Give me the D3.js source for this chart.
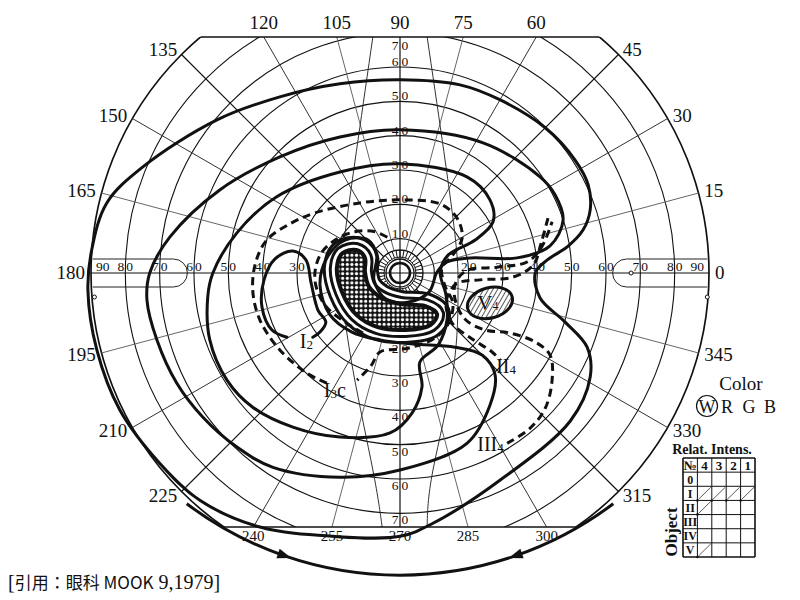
<!DOCTYPE html>
<html>
<head>
<meta charset="utf-8">
<script src="https://cdn.jsdelivr.net/npm/d3@7"></script>
<style>
  body { margin: 0; background: #fff; }
  text { font-family: "Liberation Serif", "DejaVu Serif", serif; fill: #111; }
</style>
</head>
<body>
<svg id="chart" width="800" height="600"></svg>
<script>
// ---- grid values (degrees) ----
var meridians = d3.range(0, 360, 15);
var rings = [10, 20, 30, 40, 50, 60, 70, 80, 90];
var topTicks = [60, 75, 90, 105, 120];
var bottomTicks = [240, 255, 270, 285, 300];
var sideTicks = [0, 15, 30, 45, 135, 150, 165, 180, 195, 210, 225, 315, 330, 345];
var upLabels = [10, 20, 30, 40, 50, 60, 70];
var downLabels = [20, 30, 40, 50, 60, 70];
var leftLabels = [30, 40, 50, 60, 70, 80];
var rightLabels = [20, 30, 40, 50, 60, 70, 80];

// curved guide lines of the form, [x deg, y deg]
var guideLeft = [[-7.9, 68.8], [-15.5, 15.4], [-16.9, -5], [-13.7, -28.3], [-7.9, -57.4], [-5.2, -74]];
var guideRight = [[7.9, 68.8], [15.5, 15.4], [16.9, -5], [15.5, -28.3], [9.6, -57.4], [7.9, -74]];

// isopters, [x deg (right +), y deg (up +)]
var outerLine = [[39.4,0],[42.9,3.8],[48.7,7.6],[53.3,12.5],[55.4,18.4],[54.8,25.7],[51.0,32.9],[42.3,42.3],[29.2,50.4],[17.5,54.8],[0,56.3],[-17.5,55.1],[-35.0,51.3],[-53.3,44.6],[-74.9,30.9],[-85.4,20.4],[-89.8,6.7],[-90.9,-5.0],[-88.3,-22.4],[-81.6,-39.9],[-70.0,-55.4],[-58.3,-66.2],[-40.8,-74.0],[-19.5,-76.7],[0,-76.7],[9.6,-72.9],[29.2,-60.3],[49.6,-43.1],[55.4,-30.3],[54.5,-21.6],[48.1,-14.3],[40.8,-7.3]];
var secondLine = [[0,41.7],[-17.5,39.6],[-35.0,33.8],[-52.5,24.2],[-67.0,10.5],[-72.9,0],[-73.7,-7.9],[-70.8,-19.5],[-65.0,-32.1],[-57.4,-42.0],[-47.5,-50.7],[-37.0,-56.6],[-17.5,-59.5],[0,-57.4],[19.5,-49.6],[26.2,-38.5],[27.7,-29.7],[23.9,-23.9],[16.0,-21.6],[3.8,-20.7],[-5.8,-19.5],[-14.0,-17.2],[-20.4,-12.2],[-23.3,-3.5],[-21.3,4.4],[-16.0,9.6],[-9.3,9.6],[-6.8,5.0],[-7.6,-2.0],[-4.1,-7.6],[2.3,-8.5],[8.5,-5.5],[10.8,0.3],[13.7,3.2],[20.4,4.4],[34.1,4.4],[43.7,7.9],[47.5,15.4],[45.2,22.7],[40.8,28.0],[24.2,37.9]];
var thirdLine = [[0,31.8],[-17.5,29.4],[-35.9,22.2],[-47.5,11.7],[-54.5,0],[-56.0,-7.0],[-55.4,-19.5],[-50.4,-31.2],[-42.9,-39.1],[-31.2,-44.9],[-17.5,-47.8],[-2.9,-46.6],[3.5,-40.8],[6.4,-33.2],[5.8,-25.9],[11.1,-21.0],[13.7,-13.7],[13.4,-6.4],[11.7,0.3],[14.0,5.2],[21.9,9.6],[27.1,14.9],[26.2,21.3],[19.5,28.0]];
var lineI2 = [[-32.9,-18.7],[-37.3,-16.6],[-40.2,-9.9],[-39.6,-2.0],[-36.4,4.1],[-31.2,6.4],[-27.4,3.8],[-25.9,-2.9],[-23.9,-10.8],[-21.6,-14.3],[-23.3,-17.2],[-25.4,-18.7]];
var lineI3c = [[-21.3,-32.1],[-27.1,-29.2],[-35.0,-22.4],[-40.8,-13.7],[-42.9,-5.0],[-42.0,3.2],[-38.8,9.6],[-32.1,14.3],[-24.8,17.5],[-11.7,20.4],[0,21.3],[11.7,20.1],[16.6,16.0],[18.1,10.2],[15.2,5.0],[12.2,1.5],[13.1,-3.8],[15.4,-8.7],[14.3,-14.3],[10.2,-18.9],[2.3,-21.9],[-5.8,-23.0],[-8.5,-27.1],[-12.5,-31.2]];
var rimI3c = [[-10.8,-17.5],[-16.0,-14.3],[-21.9,-9.3],[-24.8,-2.0],[-23.3,5.2],[-18.9,9.6],[-13.1,12.0],[-7.3,12.0],[-2.3,9.6]];
var lineII4 = [[43.1,16.0],[41.1,8.7],[38.8,2.3],[32.9,-1.2],[23.3,-2.0],[16.3,-3.2],[13.4,-8.7],[15.2,-14.6],[21.0,-19.2],[26.8,-23.0],[29.2,-25.4]];
var lineIII4 = [[31.2,-49.6],[37.9,-45.2],[42.3,-39.4],[44.3,-31.2],[43.7,-23.9],[39.4,-20.1],[32.1,-17.5],[24.8,-16.6],[19.2,-13.7],[16.3,-8.7],[16.0,-3.5],[19.2,0.6],[28.3,1.7],[37.0,3.2],[41.1,7.3],[44.3,14.9]];
var scotoma = [[-16.6,5.5],[-12.8,6.4],[-10.5,4.4],[-10.5,0.3],[-9.3,-4.1],[-5.8,-7.3],[0,-9.3],[7.3,-9.9],[10.5,-12.0],[8.7,-14.9],[1.5,-16.3],[-6.4,-15.5],[-12.5,-12.0],[-16.6,-5.5],[-18.1,1.5]];
var spotV4 = {x: 26.2, y: -8.7, rx: 6.7, ry: 4.4, tilt: -15};

// labels of the isopters: [text, index, suffix, x deg, y deg]
var isoLabels = [["I", "2", "", -29.2, -20.0], ["I", "3", "c", -22.2, -34.5], ["II", "4", "", 28.0, -27.5], ["III", "4", "", 22.5, -50.0]];

// table legend
var tableCols = ["\u2116", "4", "3", "2", "1"];
var tableRows = ["0", "I", "II", "III", "IV", "V"];
var tableMarks = [["I", "4"], ["I", "3"], ["I", "2"], ["I", "1"], ["II", "4"], ["V", "4"]];
var colorNames = ["W", "R", "G", "B"];

// ---- setup ----
var svg = d3.select("#chart");
var cx = 400, cy = 273, R = 309;
var topY = 37, botY = 527;
var x = d3.scaleLinear().domain([-90, 90]).range([cx - R, cx + R]);
var y = d3.scaleLinear().domain([-90, 90]).range([cy + R, cy - R]);
var r = d3.scaleLinear().domain([0, 90]).range([0, R]);

function pt(deg, rad) {
  var a = deg * Math.PI / 180;
  return [cx + rad * Math.cos(a), cy - rad * Math.sin(a)];
}

var defs = svg.append("defs");
defs.append("clipPath").attr("id", "field")
  .append("rect").attr("x", 0).attr("y", topY).attr("width", 800).attr("height", botY - topY);

var dots = defs.append("pattern").attr("id", "dots").attr("patternUnits", "userSpaceOnUse")
  .attr("width", 4.6).attr("height", 4.6);
dots.append("rect").attr("width", 4.6).attr("height", 4.6).attr("fill", "#111");
dots.append("circle").attr("cx", 2.3).attr("cy", 2.3).attr("r", 1.6).attr("fill", "#fff");

var hatch = defs.append("pattern").attr("id", "hatch").attr("patternUnits", "userSpaceOnUse")
  .attr("width", 4).attr("height", 4).attr("patternTransform", "rotate(45)");
hatch.append("rect").attr("width", 4).attr("height", 4).attr("fill", "#fff");
hatch.append("line").attr("x1", 0).attr("y1", 0).attr("x2", 0).attr("y2", 4)
  .attr("stroke", "#111").attr("stroke-width", 1.4);

// ---- grid ----
var grid = svg.append("g").attr("clip-path", "url(#field)");

grid.selectAll("circle.ring").data(rings).enter().append("circle")
  .attr("class", "ring")
  .attr("cx", cx).attr("cy", cy).attr("r", function(d) { return r(d); })
  .attr("fill", "none").attr("stroke", "#111")
  .attr("stroke-width", function(d) { return d == 90 ? 1.7 : 1.1; });

grid.selectAll("line.mer").data(meridians).enter().append("line")
  .attr("class", "mer")
  .each(function(m) {
    var p0 = pt(m, m % 90 == 0 ? 0 : 23), p1 = pt(m, R);
    d3.select(this).attr("x1", p0[0]).attr("y1", p0[1]).attr("x2", p1[0]).attr("y2", p1[1]);
  })
  .attr("stroke", function(m) { return m % 45 == 0 ? "#111" : (m % 30 == 0 ? "#333" : "#666"); })
  .attr("stroke-width", function(m) { return m % 45 == 0 ? 1.2 : 1; });

var guide = d3.line().x(function(d) { return x(d[0]); }).y(function(d) { return y(d[1]); }).curve(d3.curveNatural);
grid.selectAll("path.guide").data([guideLeft, guideRight]).enter().append("path")
  .attr("d", guide).attr("fill", "none").attr("stroke", "#333").attr("stroke-width", 1);

var halfTop = Math.sqrt(R * R - (cy - topY) * (cy - topY));
var halfBot = Math.sqrt(R * R - (botY - cy) * (botY - cy));
svg.append("line").attr("x1", cx - halfTop).attr("x2", cx + halfTop).attr("y1", topY).attr("y2", topY)
  .attr("stroke", "#111").attr("stroke-width", 1.3);
svg.append("line").attr("x1", cx - halfBot).attr("x2", cx + halfBot).attr("y1", botY).attr("y2", botY)
  .attr("stroke", "#111").attr("stroke-width", 1.3);

// rounded scale pads on the horizontal meridian
svg.append("path")
  .attr("d", "M" + x(-89.5) + "," + (cy - 14) + "H" + x(-66) + "A14,14 0 0 1 " + x(-66) + "," + (cy + 14) + "H" + x(-89.5))
  .attr("fill", "none").attr("stroke", "#222").attr("stroke-width", 1);
svg.append("path")
  .attr("d", "M" + x(89.5) + "," + (cy - 14) + "H" + x(66) + "A14,14 0 0 0 " + x(66) + "," + (cy + 14) + "H" + x(89.5))
  .attr("fill", "none").attr("stroke", "#222").attr("stroke-width", 1);
svg.selectAll("circle.mark").data([[-89, -7], [89.5, -7], [67.3, 0]]).enter().append("circle")
  .attr("cx", function(d) { return x(d[0]); }).attr("cy", function(d) { return y(d[1]); })
  .attr("r", 2).attr("fill", "#fff").attr("stroke", "#111").attr("stroke-width", 1);

// ---- meridian labels ----
svg.selectAll("text.top").data(topTicks).enter().append("text")
  .attr("x", function(m) { var a = m * Math.PI / 180; return cx + (cy - topY) * Math.cos(a) / Math.sin(a); })
  .attr("y", 29).attr("text-anchor", "middle").attr("font-size", 19)
  .text(function(m) { return m; });
svg.selectAll("text.bot").data(bottomTicks).enter().append("text")
  .attr("x", function(m) { var a = m * Math.PI / 180; return cx - (botY - cy) * Math.cos(a) / Math.sin(a); })
  .attr("y", 541).attr("text-anchor", "middle").attr("font-size", 15)
  .text(function(m) { return m; });
svg.selectAll("text.side").data(sideTicks).enter().append("text")
  .each(function(m) {
    var p = pt(m, R + 6);
    d3.select(this).attr("x", p[0]).attr("y", p[1] + 6)
      .attr("text-anchor", Math.cos(m * Math.PI / 180) > 0 ? "start" : "end");
  })
  .attr("font-size", 19).text(function(m) { return m; });

// ---- eccentricity labels (digits straddle the line) ----
function split(g, v, px, py, vertical) {
  var s = String(v);
  g.append("text").attr("x", vertical ? px - 1.5 : px - 1).attr("y", py).attr("text-anchor", "end")
    .attr("font-size", 13.5).text(s[0]);
  g.append("text").attr("x", vertical ? px + 1.5 : px + 1).attr("y", py).attr("text-anchor", "start")
    .attr("font-size", 13.5).text(s[1]);
}
var ecc = svg.append("g");
upLabels.forEach(function(v) { split(ecc, v, cx, Math.max(y(v) - 1, topY + 13), true); });
downLabels.forEach(function(v) { split(ecc, v, cx, y(-v) + 11, true); });
leftLabels.forEach(function(v) { split(ecc, v, x(-v), cy - 2, false); });
rightLabels.forEach(function(v) { split(ecc, v, x(v), cy - 2, false); });
ecc.append("text").attr("x", x(-90) + 5).attr("y", cy - 2).attr("font-size", 13.5).text("90");
ecc.append("text").attr("x", x(90) - 5).attr("y", cy - 2).attr("font-size", 13.5).attr("text-anchor", "end").text("90");

// ---- centre (fixation) ----
var ctr = svg.append("g");
ctr.selectAll("line.tick").data(d3.range(0, 360, 10)).enter().append("line")
  .each(function(m) {
    var p0 = pt(m, 16), p1 = pt(m, 23);
    d3.select(this).attr("x1", p0[0]).attr("y1", p0[1]).attr("x2", p1[0]).attr("y2", p1[1]);
  })
  .attr("stroke", "#111").attr("stroke-width", 1);
ctr.selectAll("circle").data([[10, 2.6], [14, 1.3], [16, 1], [23, 1.3]]).enter().append("circle")
  .attr("cx", cx).attr("cy", cy).attr("r", function(d) { return d[0]; })
  .attr("fill", "none").attr("stroke", "#111").attr("stroke-width", function(d) { return d[1]; });

// ---- isopters ----
var lineClosed = d3.line().x(function(d) { return x(d[0]); }).y(function(d) { return y(d[1]); })
  .curve(d3.curveCatmullRomClosed.alpha(0.5));
var lineOpen = d3.line().x(function(d) { return x(d[0]); }).y(function(d) { return y(d[1]); })
  .curve(d3.curveCatmullRom.alpha(0.5));

var iso = svg.append("g").attr("fill", "none").attr("stroke", "#111")
  .attr("stroke-linecap", "round").attr("stroke-linejoin", "round");

// scotoma: nested outlines then the dotted core
[[30, "#111"], [24, "#fff"], [18, "#111"], [12, "#fff"], [6, "#111"]].forEach(function(s) {
  iso.append("path").attr("d", lineClosed(scotoma)).attr("stroke", s[1]).attr("stroke-width", s[0]);
});
iso.append("path").attr("d", lineClosed(scotoma)).attr("fill", "url(#dots)").attr("stroke-width", 2);

[outerLine, secondLine, thirdLine].forEach(function(d) {
  iso.append("path").attr("d", lineClosed(d)).attr("stroke-width", 3);
});
iso.append("path").attr("d", lineOpen(lineI2)).attr("stroke-width", 3);
[lineI3c, rimI3c, lineII4, lineIII4].forEach(function(d) {
  iso.append("path").attr("d", lineOpen(d)).attr("stroke-width", 3).attr("stroke-dasharray", "8,5")
    .attr("stroke-linecap", "butt");
});

// small isolated island
svg.append("ellipse")
  .attr("cx", x(spotV4.x)).attr("cy", y(spotV4.y)).attr("rx", r(spotV4.rx)).attr("ry", r(spotV4.ry))
  .attr("transform", "rotate(" + spotV4.tilt + "," + x(spotV4.x) + "," + y(spotV4.y) + ")")
  .attr("fill", "url(#hatch)").attr("stroke", "#111").attr("stroke-width", 3);
var v4 = svg.append("text").attr("x", x(spotV4.x) - 2).attr("y", y(spotV4.y) + 7)
  .attr("text-anchor", "middle").attr("font-size", 21).attr("stroke", "#fff").attr("stroke-width", 0.6)
  .attr("paint-order", "stroke");
v4.append("tspan").text("V");
v4.append("tspan").attr("font-size", 12).text("4");

isoLabels.forEach(function(l) {
  var t = svg.append("text").attr("x", x(l[3])).attr("y", y(l[4]) + 6).attr("font-size", 20);
  t.append("tspan").text(l[0]);
  t.append("tspan").attr("font-size", 13).attr("dy", 1).text(l[1]);
  if (l[2]) t.append("tspan").attr("dy", -1).text(l[2]);
});

// arrow arc below the chart
var arcC = {x: 0, y: 15.2, r: 103.2, from: 127, to: 53};
var ac = [x(arcC.x), y(arcC.y)], ar = r(arcC.r);
var p = d3.path();
p.arc(ac[0], ac[1], ar, arcC.from * Math.PI / 180, arcC.to * Math.PI / 180, true);
svg.append("path").attr("d", p.toString()).attr("fill", "none").attr("stroke", "#111").attr("stroke-width", 3);
[[109, 1], [71, -1]].forEach(function(a) {
  var t = a[0] * Math.PI / 180;
  var px = ac[0] + ar * Math.cos(t), py = ac[1] + ar * Math.sin(t);
  var dir = a[1] > 0 ? [Math.sin(t), -Math.cos(t)] : [-Math.sin(t), Math.cos(t)];
  var deg = Math.atan2(dir[1], dir[0]) * 180 / Math.PI;
  svg.append("path").attr("d", "M7,0L-7,-5L-7,5Z")
    .attr("transform", "translate(" + px + "," + py + ") rotate(" + deg + ")")
    .attr("fill", "#111");
});

// ---- legend ----
svg.append("text").attr("x", 741).attr("y", 390).attr("text-anchor", "middle").attr("font-size", 19).text("Color");
svg.selectAll("text.col").data(colorNames).enter().append("text")
  .attr("x", function(d, i) { return [707, 727, 749, 770][i]; }).attr("y", 413)
  .attr("text-anchor", "middle").attr("font-size", 18).text(function(d) { return d; });
svg.append("circle").attr("cx", 707).attr("cy", 406).attr("r", 10.5)
  .attr("fill", "none").attr("stroke", "#111").attr("stroke-width", 1.2);
svg.append("text").attr("x", 712).attr("y", 454).attr("text-anchor", "middle")
  .attr("font-size", 14).attr("font-weight", "bold").text("Relat. Intens.");

var xb = d3.scaleBand().domain(tableCols).range([683, 755]);
var yb = d3.scaleBand().domain(["hdr"].concat(tableRows)).range([458, 557]);
var tab = svg.append("g");
tab.selectAll("line.v").data(d3.range(tableCols.length + 1)).enter().append("line")
  .attr("x1", function(i) { return 683 + i * xb.bandwidth(); }).attr("x2", function(i) { return 683 + i * xb.bandwidth(); })
  .attr("y1", 458).attr("y2", 557).attr("stroke", "#111")
  .attr("stroke-width", function(i) { return i == 0 || i == tableCols.length ? 1.6 : 1; });
tab.selectAll("line.h").data(d3.range(tableRows.length + 2)).enter().append("line")
  .attr("y1", function(i) { return 458 + i * yb.bandwidth(); }).attr("y2", function(i) { return 458 + i * yb.bandwidth(); })
  .attr("x1", 683).attr("x2", 755).attr("stroke", "#111")
  .attr("stroke-width", function(i) { return i == 0 || i == tableRows.length + 1 ? 1.6 : 1; });
tab.selectAll("text.hd").data(tableCols).enter().append("text")
  .attr("x", function(d) { return xb(d) + xb.bandwidth() / 2; }).attr("y", yb("hdr") + 11.5)
  .attr("text-anchor", "middle").attr("font-size", 13).attr("font-weight", "bold").text(function(d) { return d; });
tab.selectAll("text.rw").data(tableRows).enter().append("text")
  .attr("x", xb("\u2116") + xb.bandwidth() / 2).attr("y", function(d) { return yb(d) + 11.5; })
  .attr("text-anchor", "middle").attr("font-size", 12).attr("font-weight", "bold").text(function(d) { return d; });
tab.selectAll("line.mk").data(tableMarks).enter().append("line")
  .attr("x1", function(d) { return xb(d[1]) + 1; }).attr("y1", function(d) { return yb(d[0]) + yb.bandwidth() - 1; })
  .attr("x2", function(d) { return xb(d[1]) + xb.bandwidth() - 1; }).attr("y2", function(d) { return yb(d[0]) + 1; })
  .attr("stroke", "#333").attr("stroke-width", 0.8);
tab.selectAll("circle.mk").data(tableMarks).enter().append("circle")
  .attr("cx", function(d) { return xb(d[1]); }).attr("cy", function(d) { return yb(d[0]) + yb.bandwidth(); })
  .attr("r", 1.2).attr("fill", "#111");
svg.append("text").attr("transform", "translate(677,532) rotate(-90)").attr("text-anchor", "middle")
  .attr("font-size", 17).attr("font-weight", "bold").text("Object");

// ---- source note ----
var note = svg.append("text").attr("x", 8).attr("y", 589).attr("font-size", 20);
note.append("tspan").text("[");
note.append("tspan").style("font-family", "'Noto Sans CJK JP', sans-serif").attr("font-size", 17).text("引用：眼科 MOOK");
note.append("tspan").style("font-family", "'Liberation Serif', serif").text(" 9,1979]");
</script>
</body>
</html>
